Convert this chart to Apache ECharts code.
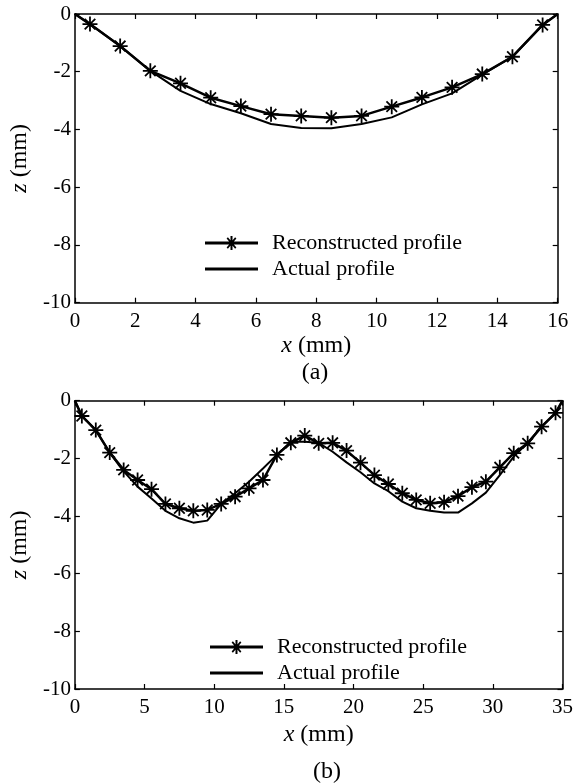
<!DOCTYPE html>
<html>
<head>
<meta charset="utf-8">
<script src="https://cdn.jsdelivr.net/npm/echarts@6/dist/echarts.min.js"></script>
<style>
html,body{margin:0;padding:0;background:#fff;}
#c{width:576px;height:784px;}
</style>
</head>
<body>
<div id="c"></div>
<script>
// ---------- Data (a) ----------
var xA = [0, 0.5, 1.5, 2.5, 3.5, 4.5, 5.5, 6.5, 7.5, 8.5, 9.5, 10.5, 11.5, 12.5, 13.5, 14.5, 15.5, 16];
var reconA = [0, -0.35, -1.11, -1.97, -2.40, -2.90, -3.19, -3.47, -3.53, -3.59, -3.53, -3.21, -2.89, -2.54, -2.08, -1.48, -0.38, 0];
var actualA = [0, -0.35, -1.11, -1.97, -2.66, -3.12, -3.44, -3.81, -3.95, -3.96, -3.81, -3.58, -3.13, -2.75, -2.10, -1.48, -0.38, 0];

// ---------- Data (b) ----------
var xB = [0, 0.5, 1.5, 2.5, 3.5, 4.5, 5.5, 6.5, 7.5, 8.5, 9.5, 10.5, 11.5, 12.5, 13.5, 14.5, 15.5, 16.5, 17.5,
          18.5, 19.5, 20.5, 21.5, 22.5, 23.5, 24.5, 25.5, 26.5, 27.5, 28.5, 29.5, 30.5, 31.5, 32.5, 33.5, 34.5, 35];
var reconB = [0, -0.53, -1.02, -1.80, -2.40, -2.75, -3.07, -3.58, -3.73, -3.82, -3.79, -3.58, -3.33, -3.04, -2.75, -1.88, -1.46, -1.21, -1.48,
              -1.46, -1.73, -2.15, -2.58, -2.89, -3.21, -3.44, -3.56, -3.52, -3.31, -3.00, -2.81, -2.31, -1.82, -1.48, -0.90, -0.42, 0];
var actualB = [0, -0.53, -1.02, -1.80, -2.45, -2.98, -3.39, -3.82, -4.08, -4.23, -4.16, -3.58, -3.21, -2.81, -2.35, -1.88, -1.42, -1.42, -1.46,
               -1.77, -2.14, -2.48, -2.87, -3.14, -3.50, -3.73, -3.82, -3.88, -3.88, -3.56, -3.19, -2.58, -1.94, -1.46, -0.90, -0.44, 0];

// ---------- Axis ticks ----------
var yTicks = {min: -10, max: 0, interval: 2};
var xTicksA = {min: 0, max: 16, interval: 2};
var xTicksB = {min: 0, max: 35, interval: 5};
var seriesNames = ['Reconstructed profile', 'Actual profile'];

var FONT = '"Liberation Serif", "Times New Roman", serif';
var star = 'path://M8.8 0L11.2 0L11.2 20L8.8 20Z M0 8.8L20 8.8L20 11.2L0 11.2Z ' +
  'M3.78 2.09L17.91 16.22L16.22 17.91L2.09 3.78Z M16.22 2.09L17.91 3.78L3.78 17.91L2.09 16.22Z';
// legend icons (53 x 14 box)
var iconRecon = 'path://M0 5.5L53 5.5L53 8.5L0 8.5Z M25.5 0L27.5 0L27.5 14L25.5 14Z ' +
  'M21.6 2.6L22.9 1.3L31.4 11.4L30.1 12.7Z M30.1 1.3L31.4 2.6L22.9 12.7L21.6 11.4Z';
var iconActual = 'path://M0 5.5L53 5.5L53 8.5L0 8.5Z M0 0L0.01 0L0.01 0.01Z M0 14L0.01 14L0.01 13.99Z';

function pairs(xs, ys, markEnds) {
  return xs.map(function (x, i) {
    var item = {value: [x, ys[i]]};
    if (markEnds && (i === 0 || i === xs.length - 1)) item.symbol = 'none';
    return item;
  });
}

function xAxes(idx, t, gap) {
  var base = {
    type: 'value', gridIndex: idx, min: t.min, max: t.max, interval: t.interval,
    axisLine: {show: true, onZero: false, lineStyle: {color: '#000', width: 1.5}},
    axisTick: {show: true, inside: true, length: 5, lineStyle: {color: '#000', width: 1.2}},
    splitLine: {show: false}
  };
  var bottom = Object.assign({}, base, {
    position: 'bottom',
    axisLabel: {show: true, color: '#000', fontFamily: FONT, fontSize: 21, margin: 8},
    name: '{i|x} (mm)', nameLocation: 'middle', nameGap: gap,
    nameTextStyle: {color: '#000', fontFamily: FONT, fontSize: 24, rich: {i: {fontStyle: 'italic', fontFamily: FONT, fontSize: 24, color: '#000'}}}
  });
  var top = Object.assign({}, base, {position: 'top', axisLabel: {show: false}});
  return [bottom, top];
}
function yAxes(idx) {
  var base = {
    type: 'value', gridIndex: idx, min: yTicks.min, max: yTicks.max, interval: yTicks.interval,
    axisLine: {show: true, onZero: false, lineStyle: {color: '#000', width: 1.5}},
    axisTick: {show: true, inside: true, length: 5, lineStyle: {color: '#000', width: 1.2}},
    splitLine: {show: false}
  };
  var left = Object.assign({}, base, {
    position: 'left',
    axisLabel: {show: true, color: '#000', fontFamily: FONT, fontSize: 21, margin: 4},
    name: '{i|z} (mm)', nameLocation: 'middle', nameGap: 29, nameRotate: 90,
    nameTextStyle: {color: '#000', fontFamily: FONT, fontSize: 24, rich: {i: {fontStyle: 'italic', fontFamily: FONT, fontSize: 24, color: '#000'}}}
  });
  var right = Object.assign({}, base, {position: 'right', axisLabel: {show: false}});
  return [left, right];
}

var xa = xAxes(0, xTicksA, 31), xb = xAxes(1, xTicksB, 34);
var ya = yAxes(0), yb = yAxes(1);

function makeSeries(name, xi, yi, data, withStar) {
  return {
    name: name, type: 'line', xAxisIndex: xi, yAxisIndex: yi, data: data,
    symbol: withStar ? star : 'none', symbolSize: 15, showSymbol: withStar,
    itemStyle: {color: '#000'},
    lineStyle: {color: '#000', width: withStar ? 2.5 : 2},
    z: withStar ? 3 : 2, animation: false
  };
}

var legendText = {color: '#000', fontFamily: FONT, fontSize: 22, padding: [0, 0, 0, 9]};

var option = {
  animation: false,
  backgroundColor: '#fff',
  grid: [
    {left: 59.3, top: 14, width: 498.4, height: 288.7, containLabel: false},
    {left: 68.3, top: 400.7, width: 498.4, height: 288.3, containLabel: false}
  ],
  xAxis: [xa[0], xa[1], xb[0], xb[1]],
  yAxis: [ya[0], ya[1], yb[0], yb[1]],
  title: [
    {text: '(a)', left: 310, top: 356, textAlign: 'center', textStyle: {color: '#000', fontFamily: FONT, fontSize: 24, fontWeight: 'normal'}},
    {text: '(b)', left: 322, top: 755, textAlign: 'center', textStyle: {color: '#000', fontFamily: FONT, fontSize: 24, fontWeight: 'normal'}}
  ],
  legend: [
    {orient: 'vertical', left: 205, top: 232, padding: 0, itemWidth: 53, itemHeight: 14, itemGap: 4,
     data: [{name: seriesNames[0], icon: iconRecon}, {name: seriesNames[1], icon: iconActual}],
     textStyle: legendText, selectedMode: false},
    {orient: 'vertical', left: 210, top: 636, padding: 0, itemWidth: 53, itemHeight: 14, itemGap: 4,
     data: [{name: seriesNames[0] + ' ', icon: iconRecon}, {name: seriesNames[1] + ' ', icon: iconActual}],
     formatter: function (n) { return n.trim(); }, textStyle: legendText, selectedMode: false}
  ],
  series: [
    makeSeries(seriesNames[1], 0, 0, pairs(xA, actualA, false), false),
    makeSeries(seriesNames[0], 0, 0, pairs(xA, reconA, true), true),
    makeSeries(seriesNames[1] + ' ', 2, 2, pairs(xB, actualB, false), false),
    makeSeries(seriesNames[0] + ' ', 2, 2, pairs(xB, reconB, true), true)
  ]
};

var chart = echarts.init(document.getElementById('c'), null, {renderer: 'canvas'});
chart.setOption(option);
</script>
</body>
</html>
